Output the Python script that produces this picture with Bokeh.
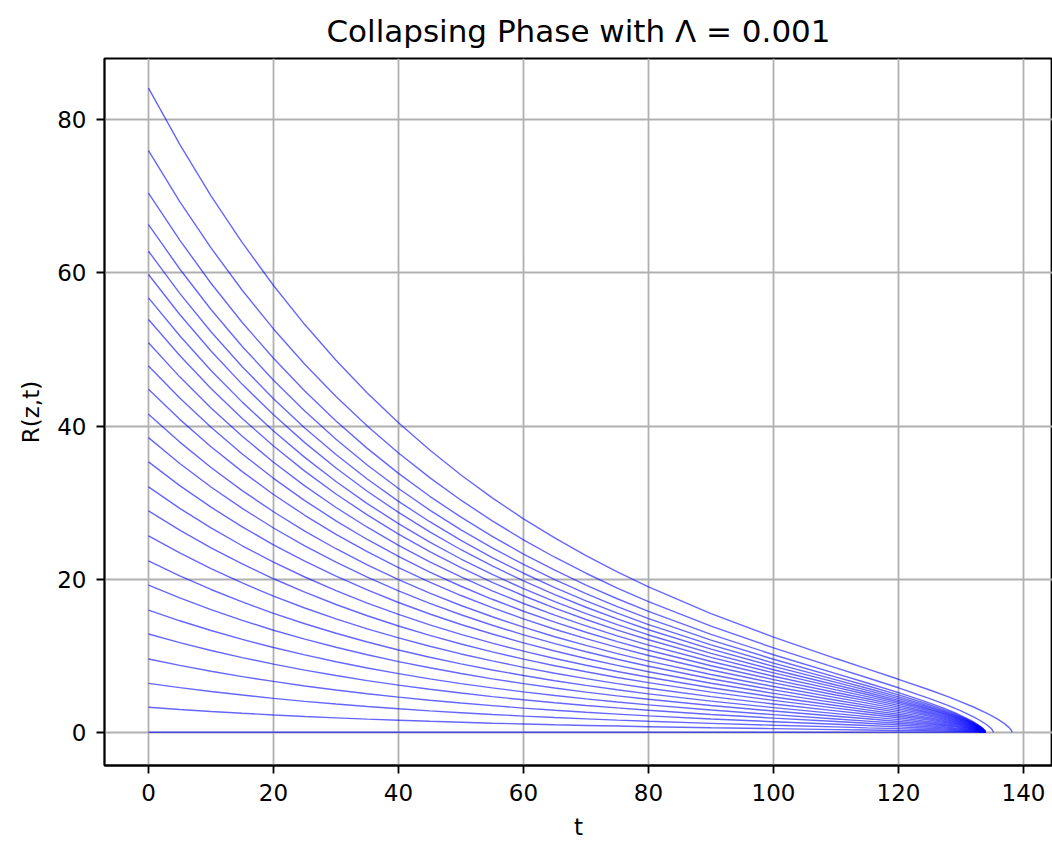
from bokeh.plotting import figure
from bokeh.models import Range1d, FixedTicker
from bokeh.embed import file_html
from bokeh.resources import INLINE

# ---- data ----
X_TICKS = [0, 20, 40, 60, 80, 100, 120, 140]
Y_TICKS = [0, 20, 40, 60, 80]

# central shell stays at R = 0
T_Z00 = [0, 133.9]
r_z00 = [0.0, 0.0]

# time samples shared by the inner shells (collapse near t = 133.9)
T_BULK = [0, 5, 10, 15, 20, 25, 30, 35, 40, 45, 50, 55, 60, 65, 70, 75, 80,
          90, 100, 110, 115, 120, 124, 127, 129, 131, 132, 133, 133.5, 133.8, 133.9]

r_z01 = [3.26, 2.97, 2.71, 2.48, 2.26, 2.06, 1.88, 1.72, 1.57, 1.43, 1.30, 1.18, 1.08, 0.98, 0.89, 0.81, 0.73,
         0.59, 0.47, 0.35, 0.30, 0.24, 0.19, 0.15, 0.12, 0.08, 0.06, 0.04, 0.02, 0.01, 0.0]
r_z02 = [6.39, 5.83, 5.32, 4.86, 4.43, 4.04, 3.69, 3.36, 3.07, 2.80, 2.55, 2.32, 2.11, 1.92, 1.75, 1.58, 1.43,
         1.16, 0.92, 0.70, 0.58, 0.47, 0.37, 0.29, 0.23, 0.16, 0.12, 0.07, 0.04, 0.02, 0.0]
r_z03 = [9.57, 8.73, 7.97, 7.27, 6.64, 6.05, 5.52, 5.04, 4.59, 4.19, 3.82, 3.48, 3.16, 2.88, 2.61, 2.37, 2.14,
         1.74, 1.38, 1.04, 0.88, 0.70, 0.56, 0.44, 0.35, 0.24, 0.18, 0.11, 0.07, 0.03, 0.0]
r_z04 = [12.83, 11.71, 10.68, 9.75, 8.90, 8.12, 7.41, 6.75, 6.16, 5.61, 5.12, 4.66, 4.24, 3.86, 3.50, 3.18, 2.87,
         2.33, 1.85, 1.40, 1.17, 0.94, 0.75, 0.58, 0.46, 0.33, 0.25, 0.15, 0.09, 0.03, 0.0]
r_z05 = [15.96, 14.56, 13.29, 12.13, 11.07, 10.10, 9.21, 8.40, 7.66, 6.98, 6.36, 5.80, 5.28, 4.80, 4.36, 3.95, 3.58,
         2.90, 2.30, 1.74, 1.46, 1.17, 0.93, 0.73, 0.58, 0.41, 0.31, 0.19, 0.11, 0.04, 0.0]
r_z06 = [19.23, 17.55, 16.01, 14.61, 13.33, 12.17, 11.10, 10.12, 9.23, 8.42, 7.67, 6.98, 6.36, 5.78, 5.25, 4.76, 4.31,
         3.49, 2.77, 2.09, 1.76, 1.41, 1.12, 0.88, 0.70, 0.49, 0.37, 0.22, 0.13, 0.05, 0.0]
r_z07 = [22.40, 20.44, 18.65, 17.02, 15.53, 14.17, 12.93, 11.79, 10.75, 9.80, 8.93, 8.14, 7.41, 6.73, 6.12, 5.55, 5.02,
         4.07, 3.22, 2.44, 2.05, 1.65, 1.30, 1.02, 0.81, 0.57, 0.43, 0.26, 0.15, 0.06, 0.0]
r_z08 = [25.66, 23.42, 21.37, 19.50, 17.79, 16.23, 14.81, 13.51, 12.32, 11.23, 10.23, 9.32, 8.48, 7.71, 7.01, 6.35, 5.75,
         4.66, 3.69, 2.79, 2.35, 1.89, 1.49, 1.17, 0.93, 0.65, 0.49, 0.30, 0.17, 0.07, 0.0]
r_z09 = [28.92, 26.39, 24.08, 21.98, 20.05, 18.30, 16.69, 15.22, 13.88, 12.66, 11.53, 10.50, 9.56, 8.69, 7.90, 7.16, 6.48,
         5.25, 4.16, 3.15, 2.65, 2.13, 1.68, 1.32, 1.05, 0.74, 0.56, 0.34, 0.20, 0.08, 0.0]
r_z10 = [32.05, 29.25, 26.69, 24.36, 22.22, 20.28, 18.50, 16.87, 15.39, 14.03, 12.78, 11.64, 10.60, 9.63, 8.75, 7.94, 7.18,
         5.82, 4.61, 3.49, 2.93, 2.36, 1.86, 1.46, 1.16, 0.82, 0.62, 0.37, 0.22, 0.09, 0.0]
r_z11 = [35.31, 32.22, 29.40, 26.83, 24.48, 22.34, 20.38, 18.59, 16.95, 15.45, 14.08, 12.83, 11.67, 10.61, 9.64, 8.74, 7.91,
         6.41, 5.08, 3.84, 3.23, 2.60, 2.05, 1.61, 1.28, 0.90, 0.68, 0.41, 0.24, 0.10, 0.0]
r_z12 = [38.48, 35.11, 32.04, 29.24, 26.68, 24.35, 22.21, 20.26, 18.47, 16.84, 15.35, 13.98, 12.72, 11.57, 10.51, 9.53, 8.62,
         6.99, 5.54, 4.19, 3.52, 2.83, 2.24, 1.75, 1.39, 0.98, 0.74, 0.45, 0.26, 0.10, 0.0]
r_z13 = [41.53, 37.90, 34.58, 31.56, 28.80, 26.27, 23.97, 21.86, 19.94, 18.18, 16.56, 15.09, 13.73, 12.48, 11.34, 10.28, 9.30,
         7.54, 5.98, 4.52, 3.80, 3.05, 2.42, 1.89, 1.50, 1.06, 0.80, 0.48, 0.28, 0.11, 0.0]
r_z14 = [44.79, 40.87, 37.30, 34.04, 31.06, 28.34, 25.85, 23.58, 21.50, 19.60, 17.86, 16.27, 14.81, 13.46, 12.23, 11.09, 10.03,
         8.13, 6.45, 4.87, 4.10, 3.29, 2.61, 2.04, 1.62, 1.14, 0.86, 0.52, 0.30, 0.12, 0.0]
r_z15 = [47.83, 43.65, 39.83, 36.35, 33.17, 30.26, 27.61, 25.18, 22.96, 20.93, 19.07, 17.37, 15.81, 14.38, 13.06, 11.84, 10.71,
         8.69, 6.88, 5.20, 4.38, 3.52, 2.78, 2.18, 1.73, 1.22, 0.92, 0.56, 0.33, 0.13, 0.0]
r_z16 = [50.87, 46.42, 42.36, 38.66, 35.27, 32.18, 29.36, 26.78, 24.42, 22.26, 20.29, 18.48, 16.82, 15.29, 13.89, 12.60, 11.39,
         9.24, 7.32, 5.53, 4.65, 3.74, 2.96, 2.32, 1.84, 1.30, 0.98, 0.59, 0.35, 0.14, 0.0]
r_z17 = [53.92, 49.20, 44.90, 40.98, 37.39, 34.11, 31.12, 28.39, 25.89, 23.60, 21.50, 19.59, 17.83, 16.21, 14.73, 13.35, 12.08,
         9.79, 7.76, 5.87, 4.93, 3.96, 3.14, 2.46, 1.95, 1.37, 1.04, 0.63, 0.37, 0.15, 0.0]
r_z18 = [56.74, 51.78, 47.25, 43.12, 39.34, 35.90, 32.75, 29.87, 27.24, 24.83, 22.63, 20.61, 18.76, 17.06, 15.50, 14.05, 12.71,
         10.30, 8.16, 6.17, 5.19, 4.17, 3.30, 2.58, 2.05, 1.45, 1.09, 0.66, 0.39, 0.15, 0.0]
r_z19 = [59.79, 54.56, 49.79, 45.44, 41.46, 37.83, 34.51, 31.48, 28.71, 26.17, 23.84, 21.72, 19.77, 17.97, 16.33, 14.80, 13.39,
         10.86, 8.60, 6.51, 5.47, 4.40, 3.48, 2.72, 2.16, 1.52, 1.15, 0.70, 0.41, 0.16, 0.0]
r_z20 = [62.83, 57.33, 52.32, 47.75, 43.57, 39.75, 36.27, 33.08, 30.16, 27.50, 25.06, 22.82, 20.77, 18.89, 17.16, 15.56, 14.07,
         11.41, 9.04, 6.84, 5.75, 4.62, 3.65, 2.86, 2.27, 1.60, 1.21, 0.73, 0.43, 0.17, 0.0]
r_z21 = [66.31, 60.51, 55.22, 50.39, 45.98, 41.95, 38.27, 34.91, 31.84, 29.02, 26.44, 24.09, 21.92, 19.93, 18.11, 16.42, 14.85,
         12.04, 9.54, 7.21, 6.07, 4.88, 3.86, 3.02, 2.40, 1.69, 1.27, 0.77, 0.45, 0.18, 0.0]
r_z22 = [70.43, 64.27, 58.65, 53.52, 48.84, 44.56, 40.65, 37.08, 33.81, 30.82, 28.09, 25.58, 23.28, 21.17, 19.23, 17.44, 15.78,
         12.79, 10.13, 7.66, 6.44, 5.18, 4.10, 3.21, 2.55, 1.79, 1.35, 0.82, 0.48, 0.19, 0.0]

# two outer shells collapse later
T_Z23 = [0, 5, 10, 15, 20, 25, 30, 35, 40, 45, 50, 55, 60, 65, 70, 75, 80,
         90, 100, 110, 115, 120, 125, 128, 130, 132, 133, 134, 134.7, 135, 135.2]
r_z23 = [75.96, 69.32, 63.26, 57.73, 52.68, 48.07, 43.85, 40.00, 36.48, 33.26, 30.31, 27.61, 25.13, 22.86, 20.77, 18.84, 17.06,
         13.86, 11.02, 8.41, 7.12, 5.81, 4.40, 3.48, 2.79, 2.02, 1.57, 1.05, 0.59, 0.32, 0.0]
T_Z24 = [0, 5, 10, 15, 20, 25, 30, 35, 40, 45, 50, 55, 60, 65, 70, 75, 80,
         90, 100, 110, 115, 120, 125, 128, 130, 132, 134, 135, 136, 137, 137.7, 138, 138.2]
r_z24 = [84.13, 76.78, 70.07, 63.95, 58.35, 53.25, 48.58, 44.32, 40.42, 36.86, 33.60, 30.62, 27.88, 25.38, 23.07, 20.95, 18.99,
         15.49, 12.42, 9.63, 8.28, 6.92, 5.52, 4.62, 3.98, 3.30, 2.54, 2.12, 1.65, 1.10, 0.61, 0.33, 0.0]

BULK = [r_z01, r_z02, r_z03, r_z04, r_z05, r_z06, r_z07, r_z08, r_z09, r_z10, r_z11,
        r_z12, r_z13, r_z14, r_z15, r_z16, r_z17, r_z18, r_z19, r_z20, r_z21, r_z22]

xs = [T_Z00] + [T_BULK for _ in BULK] + [T_Z23, T_Z24]
ys = [r_z00] + BULK + [r_z23, r_z24]

FONT = "DejaVu Sans"

p = figure(width=1052, height=844, output_backend="svg", toolbar_location=None,
           x_range=Range1d(-7.04, 144.64), y_range=Range1d(-4.34, 88.0),
           min_border_left=104, min_border_right=0, min_border_top=57, min_border_bottom=79,
           title="Collapsing Phase with Λ = 0.001")

p.multi_line(xs, ys, line_color="#0000ff", line_alpha=0.6, line_width=1.4)

p.title.align = "center"
p.title.text_font = FONT
p.title.text_font_size = "31px"
p.title.text_font_style = "normal"
p.title.text_color = "black"
p.title.standoff = 20

p.xaxis.ticker = FixedTicker(ticks=X_TICKS)
p.yaxis.ticker = FixedTicker(ticks=Y_TICKS)
p.xaxis.axis_label = "t"
p.yaxis.axis_label = "R(z,t)"

for ax in (p.xaxis[0], p.yaxis[0]):
    ax.axis_label_text_font = FONT
    ax.axis_label_text_font_size = "23px"
    ax.axis_label_text_font_style = "normal"
    ax.axis_label_text_color = "black"
    ax.major_label_text_font = FONT
    ax.major_label_text_font_size = "23px"
    ax.major_label_text_color = "black"
    ax.axis_line_width = 1.8
    ax.axis_line_color = "black"
    ax.major_tick_line_width = 1.8
    ax.major_tick_line_color = "black"
    ax.major_tick_in = 0
    ax.major_tick_out = 8
    ax.minor_tick_line_color = None
    ax.major_label_standoff = 10
    ax.axis_label_standoff = 10

p.xgrid.grid_line_color = "#b0b0b0"
p.ygrid.grid_line_color = "#b0b0b0"
p.xgrid.grid_line_width = 1.8
p.ygrid.grid_line_width = 1.8

p.outline_line_color = "black"
p.outline_line_width = 1.8
p.outline_line_alpha = 1.0
p.background_fill_color = "white"
p.border_fill_color = "white"

open("out.html", "w").write(file_html(p, INLINE))
